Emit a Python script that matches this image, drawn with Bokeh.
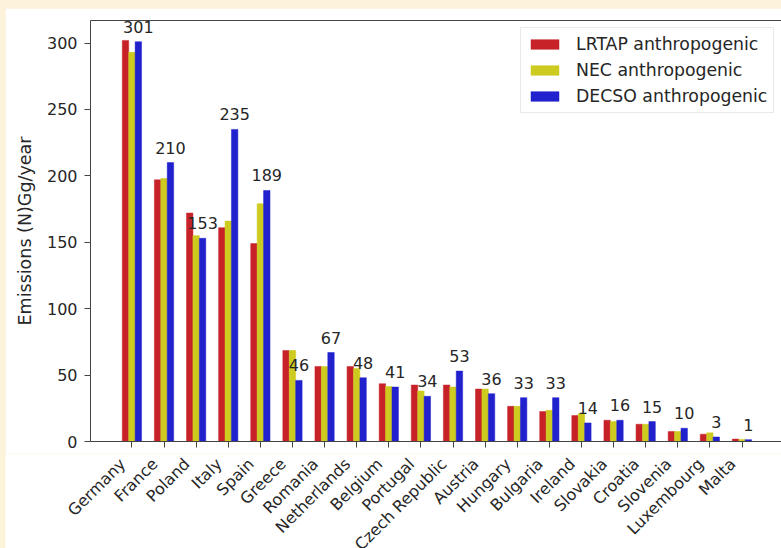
from bokeh.plotting import figure
from bokeh.models import (Range1d, FixedTicker, LinearAxis, Legend, LegendItem,
                          ColumnDataSource, LabelSet, Spacer)
from bokeh.layouts import column, row
from bokeh.core.properties import value
from bokeh.embed import file_html
from bokeh.resources import INLINE

countries = ["Germany", "France", "Poland", "Italy", "Spain", "Greece", "Romania",
             "Netherlands", "Belgium", "Portugal", "Czech Republic", "Austria",
             "Hungary", "Bulgaria", "Ireland", "Slovakia", "Croatia", "Slovenia",
             "Luxembourg", "Malta"]
lrtap = [302, 197, 172, 161, 149, 68.5, 56.5, 56.5, 43.5, 42.5, 42.5, 39.5,
         26.5, 22.5, 19.5, 16, 13, 7.5, 5.5, 1.8]
nec = [293, 198, 155, 166, 179, 68.5, 56.5, 55, 41.5, 38, 41, 39.5,
       26.5, 23.5, 21, 15, 13, 7.5, 6.5, 1.6]
decso = [301, 210, 153, 235, 189, 46, 67, 48, 41, 34, 53, 36,
         33, 33, 14, 16, 15, 10, 3.4, 1.4]
series_names = ["LRTAP anthropogenic", "NEC anthropogenic", "DECSO anthropogenic"]
y_ticks = [0, 50, 100, 150, 200, 250, 300]

RED = "#c62228"
YEL = "#cdcb1f"
BLU = "#2121cd"
CREAM = "#fdf2da"
FONT = "DejaVu Sans"
TXT = "#262626"
AX = "#444444"

W = 776            # white card width
H_MAIN = 445       # main figure height
H_LAB = 540 - H_MAIN
LEFT = 85          # frame left inside card
X0, X1 = -1.29, 20.23

idx = list(range(len(countries)))
bw = 0.2
src = ColumnDataSource(dict(
    x=idx,
    xr=[i - bw for i in idx],
    xb=[i + bw for i in idx],
    lrtap=lrtap, nec=nec, decso=decso,
    lab=[f"{v:.0f}" for v in decso],
    country=countries,
    base=[0] * len(idx),
))

p = figure(width=W, height=H_MAIN, output_backend="svg", toolbar_location=None,
           x_range=Range1d(X0, X1), y_range=Range1d(0, 317),
           min_border_left=LEFT, min_border_top=12, min_border_bottom=H_MAIN - 433,
           min_border_right=0, x_axis_location=None, y_axis_location=None)
p.outline_line_color = None
p.grid.visible = False
p.background_fill_color = "white"
p.border_fill_color = "white"

r1 = p.vbar(x="xr", top="lrtap", width=bw, source=src, fill_color=RED, line_color=RED, line_width=0.5)
r2 = p.vbar(x="x", top="nec", width=bw, source=src, fill_color=YEL, line_color=YEL, line_width=0.5)
r3 = p.vbar(x="xb", top="decso", width=bw, source=src, fill_color=BLU, line_color=BLU, line_width=0.5)

labels = LabelSet(x="xb", y="decso", text="lab", source=src, y_offset=9,
                  text_align="center", text_baseline="alphabetic",
                  text_font=value(FONT), text_font_size=value("16px"),
                  text_color=TXT)
p.add_layout(labels)

yaxis = LinearAxis(ticker=FixedTicker(ticks=y_ticks))
yaxis.axis_label = "Emissions (N)Gg/year"
yaxis.axis_label_text_font = FONT
yaxis.axis_label_text_font_size = "17.5px"
yaxis.axis_label_text_font_style = "normal"
yaxis.axis_label_text_color = TXT
yaxis.axis_label_standoff = 9
yaxis.major_label_text_font = FONT
yaxis.major_label_text_font_size = "16px"
yaxis.major_label_text_color = TXT
yaxis.major_tick_out = 6
yaxis.major_tick_in = 0
yaxis.minor_tick_out = 0
yaxis.minor_tick_in = 0
yaxis.major_label_standoff = 7
yaxis.axis_line_color = AX
yaxis.major_tick_line_color = AX
p.add_layout(yaxis, "left")

xaxis = LinearAxis(ticker=FixedTicker(ticks=idx))
xaxis.major_label_text_font_size = "0px"
xaxis.major_label_text_color = None
xaxis.major_tick_out = 6
xaxis.major_tick_in = 0
xaxis.minor_tick_out = 0
xaxis.minor_tick_in = 0
xaxis.major_label_standoff = 0
xaxis.axis_line_color = AX
xaxis.major_tick_line_color = AX
p.add_layout(xaxis, "below")

top = LinearAxis(ticker=FixedTicker(ticks=[]))
top.major_label_text_font_size = "0px"
top.major_label_text_color = None
top.major_tick_out = 0
top.major_tick_in = 0
top.minor_tick_out = 0
top.minor_tick_in = 0
top.major_label_standoff = 0
top.axis_line_color = AX
p.add_layout(top, "above")

legend = Legend(items=[LegendItem(label=series_names[0], renderers=[r1]),
                       LegendItem(label=series_names[1], renderers=[r2]),
                       LegendItem(label=series_names[2], renderers=[r3])],
                location=(430, 328))
legend.label_text_font = FONT
legend.label_text_font_size = "17.3px"
legend.label_text_color = TXT
legend.glyph_width = 35
legend.glyph_height = 12
legend.label_height = 17
legend.label_standoff = 14
legend.spacing = 6
legend.padding = 6
legend.margin = 0
legend.border_line_color = "#d6d6d6"
legend.border_line_width = 1
legend.background_fill_color = "white"
legend.background_fill_alpha = 1.0
p.add_layout(legend, "center")

# strip below the axis carrying the rotated country names (same x scale)
px_per_unit = (W - LEFT) / (X1 - X0)
q = figure(width=W, height=H_LAB, output_backend="svg", toolbar_location=None,
           x_range=Range1d(X0 - LEFT / px_per_unit, X1), y_range=Range1d(-(H_LAB - 1), 1),
           min_border_left=0, min_border_right=0, min_border_top=0, min_border_bottom=0,
           x_axis_location=None, y_axis_location=None)
q.outline_line_color = None
q.grid.visible = False
q.background_fill_color = "white"
q.border_fill_color = "white"
q.text(x="x", y="base", text="country", source=src, angle=0.785398,
       x_offset=-16, text_align="right", text_baseline="top",
       text_font=value(FONT), text_font_size=value("16px"), text_color=TXT)

page = column(Spacer(width=781, height=8),
              row(Spacer(width=5, height=540),
                  column(p, row(Spacer(width=0, height=H_LAB), q))),
              styles={"background-color": CREAM})

open("out.html", "w").write(file_html(page, INLINE))
